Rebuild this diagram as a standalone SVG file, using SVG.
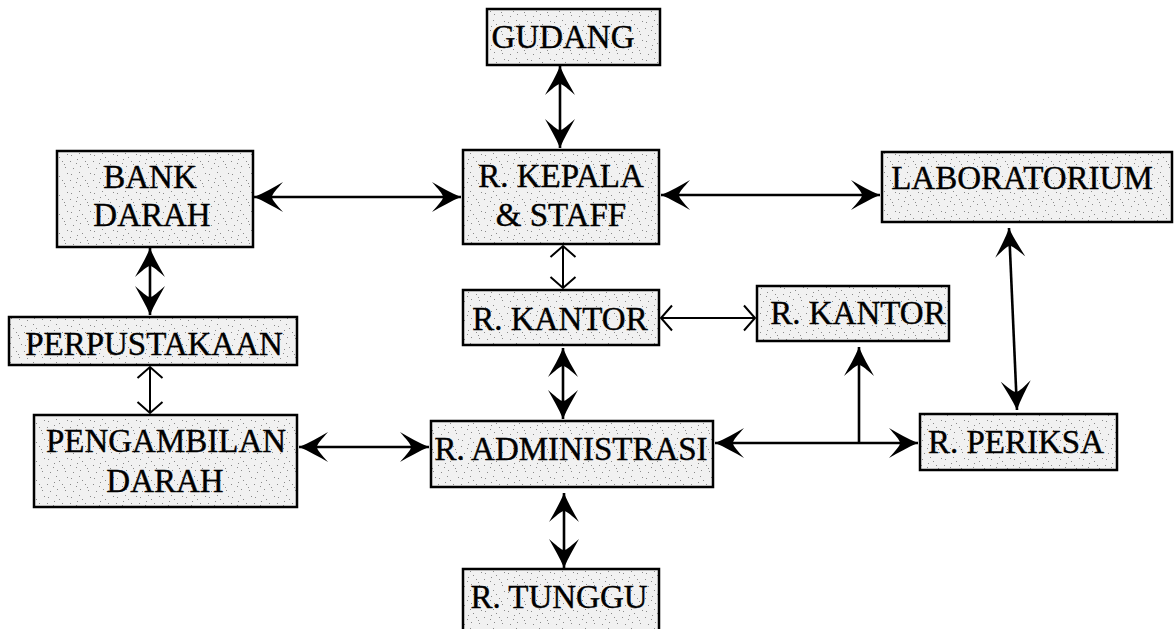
<svg xmlns="http://www.w3.org/2000/svg" width="1176" height="629" viewBox="0 0 1176 629">
  <style>
    .box { fill: url(#stipple); stroke: #000; stroke-width: 2.5; }
    .lbl { font-family: "Liberation Serif", "Times New Roman", serif; font-size: 33px; fill: #000; stroke: #000; stroke-width: 0.4; text-anchor: middle; }
    .big { fill: none; stroke: #000; stroke-width: 2.6; marker-start: url(#head); marker-end: url(#head); }
    .one { fill: none; stroke: #000; stroke-width: 2.6; marker-end: url(#head); }
    .thin { fill: none; stroke: #000; stroke-width: 2; marker-start: url(#chev); marker-end: url(#chev); }
  </style>
  <defs>
    <!-- speckled grey shading used inside every room box -->
    <pattern id="stipple" width="23" height="19" patternUnits="userSpaceOnUse">
      <rect width="23" height="19" fill="#f1f1f1"/>
      <g fill="#8a8a8a">
        <rect x="2" y="3" width="1" height="1"/>
        <rect x="7" y="11" width="1" height="1"/>
        <rect x="13" y="5" width="1" height="1"/>
        <rect x="19" y="15" width="1" height="1"/>
        <rect x="16" y="9" width="1" height="1"/>
        <rect x="4" y="16" width="1" height="1"/>
        <rect x="10" y="1" width="1" height="1"/>
        <rect x="21" y="2" width="1" height="1"/>
        <rect x="11" y="14" width="1" height="1"/>
        <rect x="1" y="9" width="1" height="1"/>
        <rect x="18" y="12" width="1" height="1"/>
        <rect x="8" y="7" width="1" height="1"/>
      </g>
    </pattern>
    <!-- solid barbed arrowhead -->
    <marker id="head" markerUnits="userSpaceOnUse" markerWidth="32" markerHeight="32" viewBox="0 0 32 32" refX="30" refY="16" orient="auto-start-reverse">
      <path d="M30,16 C20,12 10,6 1,1 C7,8 12,13 12,16 C12,19 7,24 1,31 C10,26 20,20 30,16 Z" fill="#000"/>
    </marker>
    <!-- open chevron arrowhead -->
    <marker id="chev" markerUnits="userSpaceOnUse" markerWidth="16" markerHeight="28" viewBox="0 0 16 28" refX="13" refY="14" orient="auto-start-reverse">
      <path d="M2,1.5 L13,14 L2,26.5" fill="none" stroke="#000" stroke-width="2"/>
    </marker>
  </defs>

  <g id="connectors">
    <line class="big" x1="560" y1="66" x2="560" y2="148"/>
    <line class="big" x1="254" y1="197" x2="461" y2="197"/>
    <line class="big" x1="661" y1="195" x2="880" y2="195"/>
    <line class="big" x1="150" y1="248" x2="150" y2="315"/>
    <line class="thin" x1="150" y1="367" x2="150" y2="413"/>
    <line class="thin" x1="563" y1="246" x2="563" y2="288"/>
    <line class="thin" x1="661" y1="318" x2="755" y2="318"/>
    <line class="big" x1="563" y1="348" x2="563" y2="419"/>
    <line class="big" x1="299" y1="447" x2="429" y2="447"/>
    <line class="big" x1="564" y1="493" x2="564" y2="568"/>
    <line class="big" x1="715" y1="443" x2="918" y2="443"/>
    <line class="one" x1="859" y1="443" x2="859" y2="347"/>
    <line class="big" x1="1009" y1="228" x2="1017" y2="410"/>
  </g>

  <g id="gudang">
    <rect class="box" x="487" y="9" width="173" height="56"/>
    <text class="lbl" x="563" y="48">GUDANG</text>
  </g>
  <g id="kepala">
    <rect class="box" x="463" y="150" width="196" height="94"/>
    <text class="lbl" x="561" y="187">R. KEPALA</text>
    <text class="lbl" x="561" y="226">&amp; STAFF</text>
  </g>
  <g id="bank-darah">
    <rect class="box" x="57" y="151" width="196" height="96"/>
    <text class="lbl" x="150" y="188">BANK</text>
    <text class="lbl" x="152" y="226">DARAH</text>
  </g>
  <g id="laboratorium">
    <rect class="box" x="882" y="152" width="290" height="70"/>
    <text class="lbl" x="1022" y="189">LABORATORIUM</text>
  </g>
  <g id="perpustakaan">
    <rect class="box" x="9" y="317" width="288" height="48"/>
    <text class="lbl" x="154" y="355">PERPUSTAKAAN</text>
  </g>
  <g id="kantor-1">
    <rect class="box" x="463" y="290" width="196" height="55"/>
    <text class="lbl" x="560" y="330">R. KANTOR</text>
  </g>
  <g id="kantor-2">
    <rect class="box" x="757" y="286" width="192" height="55"/>
    <text class="lbl" x="858" y="324">R. KANTOR</text>
  </g>
  <g id="pengambilan-darah">
    <rect class="box" x="34" y="415" width="263" height="92"/>
    <text class="lbl" x="166" y="452">PENGAMBILAN</text>
    <text class="lbl" x="165" y="492">DARAH</text>
  </g>
  <g id="administrasi">
    <rect class="box" x="431" y="421" width="282" height="66"/>
    <text class="lbl" x="571" y="460">R. ADMINISTRASI</text>
  </g>
  <g id="periksa">
    <rect class="box" x="920" y="414" width="197" height="56"/>
    <text class="lbl" x="1016" y="453">R. PERIKSA</text>
  </g>
  <g id="tunggu">
    <rect class="box" x="463" y="569" width="196" height="70"/>
    <text class="lbl" x="559" y="608">R. TUNGGU</text>
  </g>
</svg>
